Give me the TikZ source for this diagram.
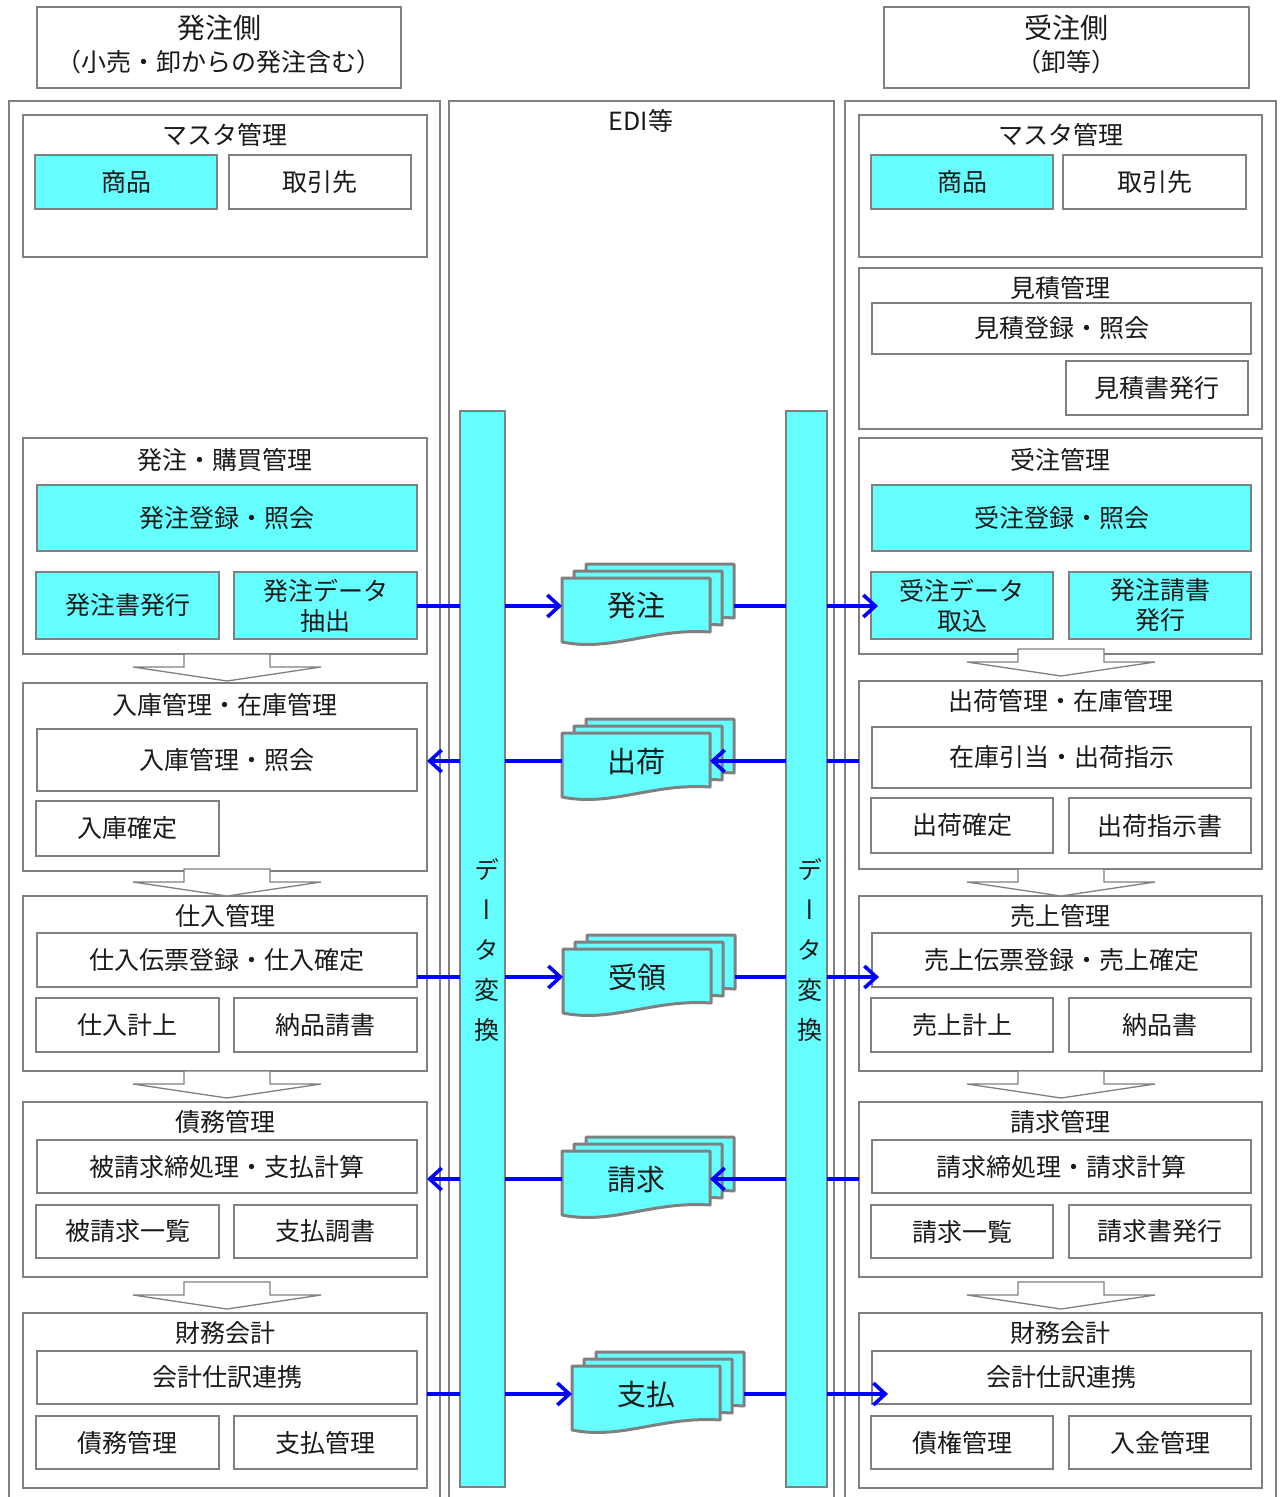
\documentclass[tikz,border=0pt]{standalone}
\usepackage{fontspec}
\setmainfont{Noto Sans CJK JP}
\newfontfamily\vertfont[RawFeature=+vert]{Noto Sans CJK JP}
\usetikzlibrary{arrows.meta}
\definecolor{cyanc}{HTML}{66FFFF}
\definecolor{lgray}{HTML}{808080}
\definecolor{eblue}{HTML}{0000FF}
\definecolor{txt}{HTML}{1A1A1A}
\newcommand\fsBox{\fontsize{25}{30}\selectfont}
\newcommand\fsDoc{\fontsize{29}{30}\selectfont}
\newcommand\fsHd{\fontsize{28}{30}\selectfont}
\newcommand\fsSub{\fontsize{25}{28}\selectfont}
\newcommand\fsEdi{\fontsize{25}{28}\selectfont}
\newcommand\bx[7]{%
  \pgfmathsetmacro\myX{(#2+#4)/2}%
  \pgfmathsetmacro\myY{(#3+#5)/2}%
  \pgfmathsetmacro\myW{#4-#2}%
  \pgfmathsetmacro\myH{#5-#3}%
  \node[#6, minimum width=\myW pt, minimum height=\myH pt] (#1) at (\myX,\myY) {#7};}
\newcommand\docs[4]{%
  \begin{scope}[shift={(#2,#3)}]
    \foreach \dx/\dy in {24/-14, 12/-7, 0/0}{
      \draw[docst, shift={(\dx,\dy)}] (0,0) -- (148,0) -- (148,54)
        .. controls (90,50) and (50,74) .. (0,64) -- cycle;}
  \end{scope}
  \node[font=\fsDoc, text=txt, minimum width=148pt, minimum height=54pt, inner sep=0pt, outer sep=0pt] (#1) at (#2+74,#3+28) {#4};
  \coordinate (#1r) at (#2+172,#3+28);}
\newcommand\barrow[2]{%
  \draw[blk] (#1-43,#2) -- (#1-43,#2+13) -- (#1-94,#2+13) -- (#1,#2+27)
    -- (#1+94,#2+13) -- (#1+43,#2+13) -- (#1+43,#2) -- cycle;}
\tikzset{
  colfr/.style={draw=lgray, line width=2.4pt},
  hdr/.style={draw=lgray, line width=2.4pt, fill=white, inner sep=0pt, outer sep=0pt},
  grp/.style={draw=lgray, line width=2.2pt, fill=white, inner sep=0pt, outer sep=0pt},
  wbox/.style={draw=lgray, line width=1.6pt, fill=white, inner sep=0pt, outer sep=0pt, font=\fsBox, text=txt, align=center},
  cbox/.style={wbox, fill=cyanc},
  ttl/.style={font=\fsBox, text=txt, inner sep=0pt},
  docst/.style={draw=lgray, line width=3pt, fill=cyanc, line join=round},
  blk/.style={draw=lgray, line width=1.3pt, fill=white},
  barst/.style={draw=lgray, line width=2pt, fill=cyanc, inner sep=0pt, outer sep=0pt},
  conn/.style={draw=eblue, line width=3.6pt},
  arr/.style={conn, -{Straight Barb[length=12pt,width=22pt]}},
}
\begin{document}
\begin{tikzpicture}[x=1pt,y=-1pt]
\useasboundingbox (0,0) rectangle (1283,1497);
\fill[white] (0,0) rectangle (1283,1497);
% header boxes
\bx{H1}{37}{7}{401}{88}{hdr}{}
\node[font=\fsHd, text=txt] (H1t) at (219,28) {発注側};
\node[font=\fsSub, text=txt] (H1s) at (219,62) {（小売・卸からの発注含む）};
\bx{H2}{884}{7}{1249}{88}{hdr}{}
\node[font=\fsHd, text=txt] (H2t) at (1066,28) {受注側};
\node[font=\fsSub, text=txt] (H2s) at (1066,62) {（卸等）};
% column frames
\draw[colfr] (9,1510) -- (9,101) -- (440,101) -- (440,1510);
\draw[colfr] (449,1510) -- (449,101) -- (834,101) -- (834,1510);
\draw[colfr] (845,1510) -- (845,101) -- (1276,101) -- (1276,1510);
\node[font=\fsEdi, text=txt] (edi) at (641,121) {EDI等};
% left groups
\bx{Lg1}{23}{115}{427}{257}{grp}{}
\bx{Lg2}{23}{438}{427}{654}{grp}{}
\bx{Lg3}{23}{683}{427}{871}{grp}{}
\bx{Lg4}{23}{896}{427}{1071}{grp}{}
\bx{Lg5}{23}{1102}{427}{1277}{grp}{}
\bx{Lg6}{23}{1313}{427}{1488}{grp}{}
\node[ttl] (Lg1t) at ([yshift=-20pt]Lg1.north) {マスタ管理};
\node[ttl] (Lg2t) at ([yshift=-22pt]Lg2.north) {発注・購買管理};
\node[ttl] (Lg3t) at ([yshift=-22pt]Lg3.north) {入庫管理・在庫管理};
\node[ttl] (Lg4t) at ([yshift=-20pt]Lg4.north) {仕入管理};
\node[ttl] (Lg5t) at ([yshift=-20pt]Lg5.north) {債務管理};
\node[ttl] (Lg6t) at ([yshift=-20pt]Lg6.north) {財務会計};
\bx{L1a}{35}{155}{217}{209}{cbox}{商品}
\bx{L1b}{229}{155}{411}{209}{wbox}{取引先}
\bx{L2a}{37}{485}{417}{551}{cbox}{発注登録・照会}
\bx{L2b}{36}{572}{219}{639}{cbox}{発注書発行}
\bx{L2c}{234}{572}{417}{639}{cbox}{発注データ\\抽出}
\bx{L3a}{37}{729}{417}{791}{wbox}{入庫管理・照会}
\bx{L3b}{36}{801}{219}{856}{wbox}{入庫確定}
\bx{L4a}{37}{933}{417}{987}{wbox}{仕入伝票登録・仕入確定}
\bx{L4b}{36}{998}{219}{1052}{wbox}{仕入計上}
\bx{L4c}{234}{998}{417}{1052}{wbox}{納品請書}
\bx{L5a}{37}{1140}{417}{1193}{wbox}{被請求締処理・支払計算}
\bx{L5b}{36}{1205}{219}{1258}{wbox}{被請求一覧}
\bx{L5c}{234}{1205}{417}{1258}{wbox}{支払調書}
\bx{L6a}{37}{1351}{417}{1404}{wbox}{会計仕訳連携}
\bx{L6b}{36}{1416}{219}{1469}{wbox}{債務管理}
\bx{L6c}{234}{1416}{417}{1469}{wbox}{支払管理}
% right groups
\bx{Rg1}{859}{115}{1262}{257}{grp}{}
\bx{Rg2}{859}{268}{1262}{429}{grp}{}
\bx{Rg3}{859}{438}{1262}{654}{grp}{}
\bx{Rg4}{859}{681}{1262}{869}{grp}{}
\bx{Rg5}{859}{896}{1262}{1071}{grp}{}
\bx{Rg6}{859}{1102}{1262}{1277}{grp}{}
\bx{Rg7}{859}{1313}{1262}{1488}{grp}{}
\node[ttl] (Rg1t) at ([yshift=-20pt]Rg1.north) {マスタ管理};
\node[ttl] (Rg2t) at ([yshift=-20pt]Rg2.north) {見積管理};
\node[ttl] (Rg3t) at ([yshift=-22pt]Rg3.north) {受注管理};
\node[ttl] (Rg4t) at ([yshift=-20pt]Rg4.north) {出荷管理・在庫管理};
\node[ttl] (Rg5t) at ([yshift=-20pt]Rg5.north) {売上管理};
\node[ttl] (Rg6t) at ([yshift=-20pt]Rg6.north) {請求管理};
\node[ttl] (Rg7t) at ([yshift=-20pt]Rg7.north) {財務会計};
\bx{R1a}{871}{155}{1053}{209}{cbox}{商品}
\bx{R1b}{1063}{155}{1246}{209}{wbox}{取引先}
\bx{R2a}{872}{303}{1251}{354}{wbox}{見積登録・照会}
\bx{R2b}{1066}{361}{1248}{415}{wbox}{見積書発行}
\bx{R3a}{872}{485}{1251}{551}{cbox}{受注登録・照会}
\bx{R3b}{871}{572}{1053}{639}{cbox}{受注データ\\取込}
\bx{R3c}{1069}{572}{1251}{639}{cbox}{発注請書\\発行}
\bx{R4a}{872}{727}{1251}{788}{wbox}{在庫引当・出荷指示}
\bx{R4b}{871}{798}{1053}{853}{wbox}{出荷確定}
\bx{R4c}{1069}{798}{1251}{853}{wbox}{出荷指示書}
\bx{R5a}{872}{933}{1251}{987}{wbox}{売上伝票登録・売上確定}
\bx{R5b}{871}{998}{1053}{1052}{wbox}{売上計上}
\bx{R5c}{1069}{998}{1251}{1052}{wbox}{納品書}
\bx{R6a}{872}{1140}{1251}{1193}{wbox}{請求締処理・請求計算}
\bx{R6b}{871}{1205}{1053}{1258}{wbox}{請求一覧}
\bx{R6c}{1069}{1205}{1251}{1258}{wbox}{請求書発行}
\bx{R7a}{872}{1351}{1251}{1404}{wbox}{会計仕訳連携}
\bx{R7b}{871}{1416}{1053}{1469}{wbox}{債権管理}
\bx{R7c}{1069}{1416}{1251}{1469}{wbox}{入金管理}
% flow block arrows
\barrow{227}{654}
\barrow{227}{869}
\barrow{227}{1071}
\barrow{227}{1282}
\barrow{1061}{649}
\barrow{1061}{869}
\barrow{1061}{1071}
\barrow{1061}{1282}
% data conversion bars
\bx{lbar}{460}{411}{505}{1487}{barst}{}
\bx{rbar}{786}{411}{827}{1487}{barst}{}
\node[font=\vertfont\fontsize{25}{40}\selectfont, text=txt, align=center, inner sep=0pt] (lbt) at (487,950) {デ\\ー\\タ\\変\\換};
\node[font=\vertfont\fontsize{25}{40}\selectfont, text=txt, align=center, inner sep=0pt] (rbt) at (810,950) {デ\\ー\\タ\\変\\換};
% documents
\docs{d1}{562}{578}{発注}
\docs{d2}{562}{733}{出荷}
\docs{d3}{563}{949}{受領}
\docs{d4}{562}{1151}{請求}
\docs{d5}{572}{1366}{支払}
\coordinate (t1) at ([xshift=7pt]R3b.west);
\coordinate (t3) at ([xshift=7pt]R5a.west);
\coordinate (t5) at ([xshift=16pt]R7a.west);
% row 1: 発注
\draw[conn] (L2c.east |- d1.west) -- (lbar.west |- d1.west);
\draw[arr] (lbar.east |- d1.west) -- (d1.west);
\draw[conn] (d1r) -- (rbar.west |- d1r);
\draw[arr] (rbar.east |- d1r) -- (t1 |- d1r);
% row 2: 出荷
\draw[conn] (Rg4.west |- d2.east) -- (rbar.east |- d2.east);
\draw[arr] (rbar.west |- d2.east) -- (d2.east);
\draw[conn] (d2.west) -- (lbar.east |- d2.west);
\draw[arr] (lbar.west |- d2.west) -- (Lg3.east |- d2.west);
% row 3: 受領
\draw[conn] (L4a.east |- d3.west) -- (lbar.west |- d3.west);
\draw[arr] (lbar.east |- d3.west) -- (d3.west);
\draw[conn] (d3r) -- (rbar.west |- d3r);
\draw[arr] (rbar.east |- d3r) -- (t3 |- d3r);
% row 4: 請求
\draw[conn] (Rg6.west |- d4.east) -- (rbar.east |- d4.east);
\draw[arr] (rbar.west |- d4.east) -- (d4.east);
\draw[conn] (d4.west) -- (lbar.east |- d4.west);
\draw[arr] (lbar.west |- d4.west) -- (Lg5.east |- d4.west);
% row 5: 支払
\draw[conn] (Lg6.east |- d5.west) -- (lbar.west |- d5.west);
\draw[arr] (lbar.east |- d5.west) -- (d5.west);
\draw[conn] (d5r) -- (rbar.west |- d5r);
\draw[arr] (rbar.east |- d5r) -- (t5 |- d5r);
\end{tikzpicture}
\end{document}
